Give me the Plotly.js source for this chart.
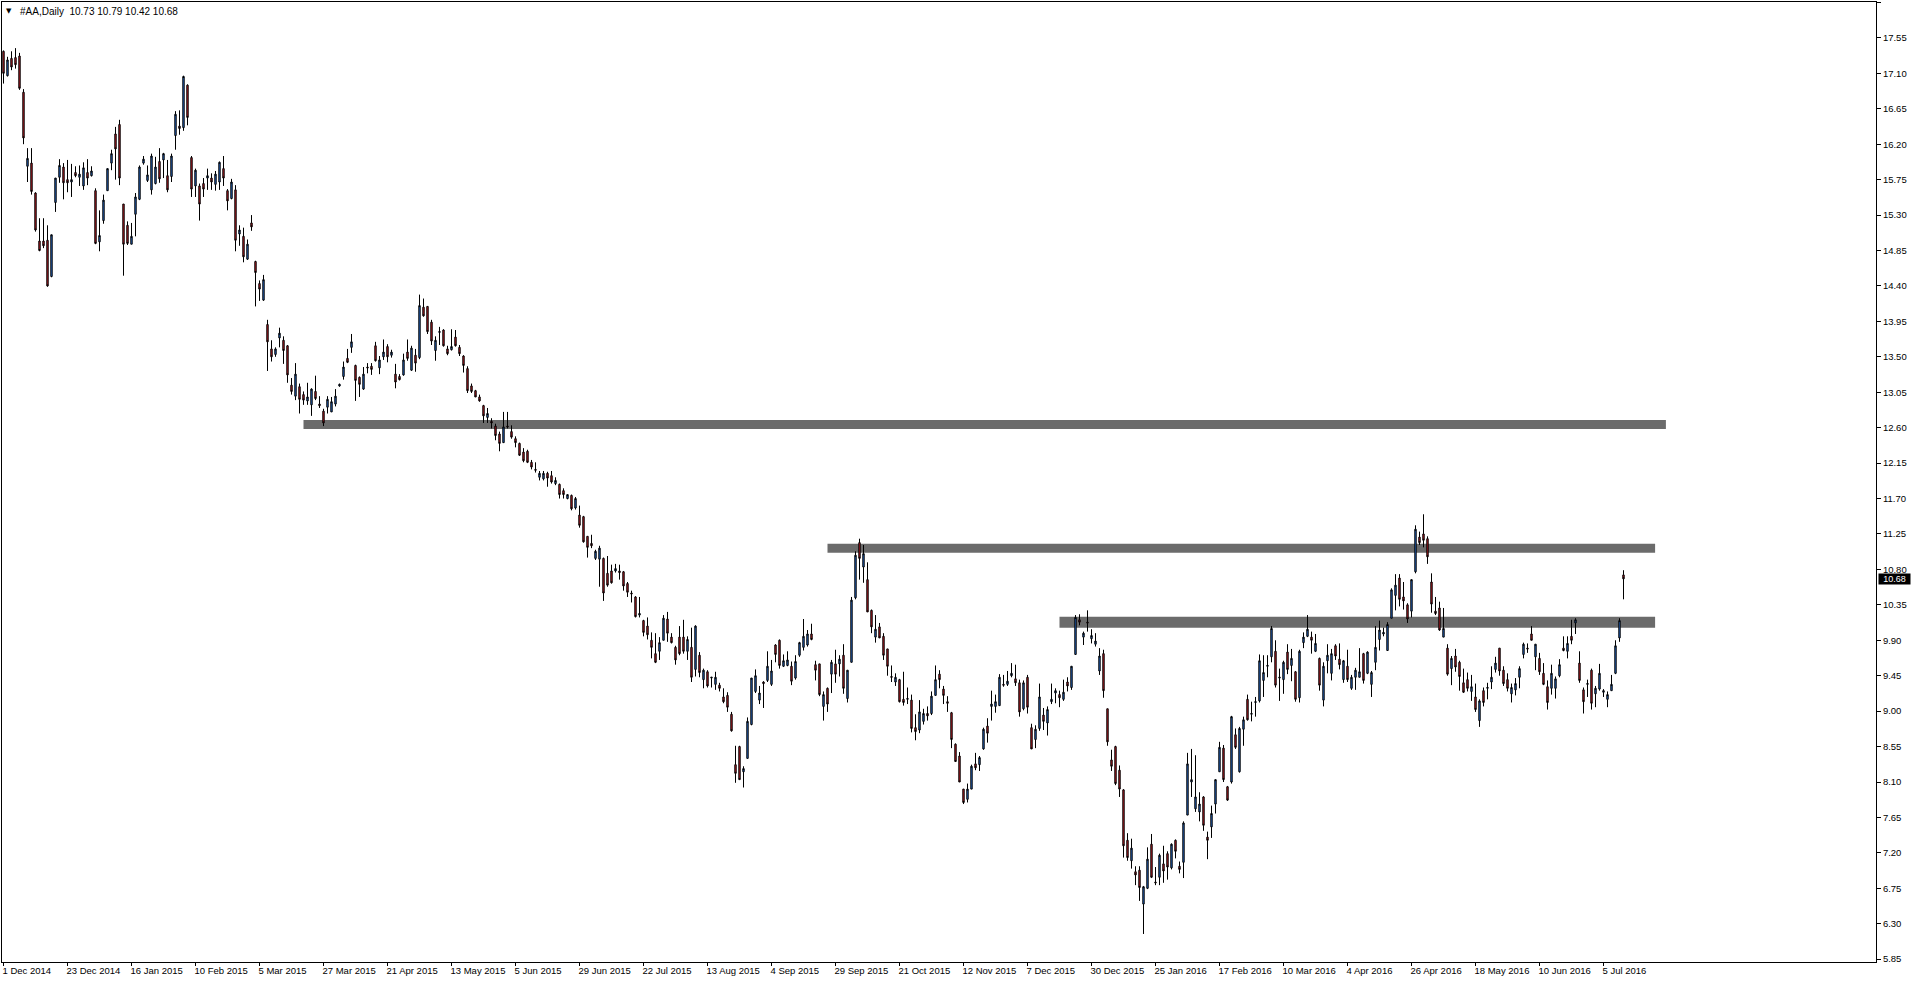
<!DOCTYPE html>
<html><head><meta charset="utf-8">
<script src="https://cdn.plot.ly/plotly-3.0.1.min.js"></script>
<style>html,body{margin:0;padding:0;background:#fff;overflow:hidden}#chart{width:1916px;height:982px}</style>
</head><body><div id="chart"></div>
<script>
// Daily OHLC of #AA, bar by bar (bar 0 = 1 Dec 2014)
const openP = [
17.38,17.07,17.29,17.30,17.32,16.86,15.92,15.96,15.58,14.97,14.97,14.98,14.52,15.46,15.78,15.91,15.75,15.72,15.84,15.78,
15.67,15.84,15.80,15.61,14.96,15.23,15.61,15.96,16.33,16.45,15.44,15.17,14.93,15.31,15.50,15.96,15.74,15.62,15.70,15.98,
16.00,15.80,15.79,16.31,16.43,16.41,16.95,16.03,15.67,15.67,15.70,15.77,15.77,15.69,15.72,15.89,15.61,15.51,15.62,15.06,
15.03,14.74,15.20,14.71,14.43,14.22,13.91,13.60,13.53,13.74,13.71,13.64,13.14,13.00,13.12,13.02,12.94,12.89,13.06,12.90,
12.81,12.86,12.80,12.90,13.13,13.25,13.48,13.62,13.39,13.24,13.09,13.37,13.38,13.64,13.36,13.50,13.63,13.52,13.28,13.25,
13.27,13.56,13.33,13.52,13.49,14.13,14.14,13.94,13.58,13.81,13.84,13.60,13.59,13.75,13.62,13.51,13.35,13.13,13.07,12.99,
12.88,12.73,12.68,12.62,12.52,12.41,12.62,12.55,12.46,12.40,12.29,12.30,12.16,12.07,11.97,11.95,12.02,11.99,11.89,11.88,
11.80,11.70,11.74,11.58,11.49,11.47,11.22,11.13,10.94,10.93,10.94,10.75,10.78,10.78,10.78,10.77,10.62,10.50,10.45,10.22,
10.15,10.08,9.90,9.73,9.76,9.90,10.17,9.94,9.81,9.94,9.94,9.76,9.81,9.53,9.71,9.40,9.50,9.42,9.34,9.33,
9.18,9.20,8.96,8.32,8.55,8.23,8.40,8.83,9.25,9.14,9.37,9.39,9.34,9.84,9.90,9.57,9.58,9.57,9.42,9.71,
9.81,9.84,9.98,9.59,9.60,9.06,9.29,9.47,9.60,9.60,9.71,9.16,9.62,10.44,11.14,10.83,10.67,10.28,9.94,10.07,
9.95,9.79,9.44,9.37,9.40,9.15,9.15,9.14,8.79,8.76,8.87,8.97,8.97,9.20,9.47,9.28,9.12,8.98,8.58,8.43,
8.01,7.88,8.01,8.33,8.32,8.52,8.81,9.06,9.06,9.07,9.34,9.34,9.45,9.41,9.36,9.03,9.43,8.79,8.64,8.78,
8.95,8.85,9.12,9.23,9.21,9.15,9.37,9.30,9.72,10.16,9.94,10.13,9.92,9.85,9.51,9.73,9.03,8.38,8.55,8.25,
8.00,7.36,7.10,6.96,6.98,6.55,6.75,7.31,6.83,6.89,7.06,7.19,7.01,7.36,7.03,7.08,7.68,8.10,7.76,7.72,
7.91,7.40,7.53,7.82,8.23,8.53,8.04,8.10,8.70,8.23,8.77,9.15,8.96,9.11,9.13,9.39,9.57,9.69,9.76,9.42,
9.40,9.75,9.58,9.50,9.17,9.87,9.95,9.94,9.76,9.67,9.14,9.64,9.48,9.83,9.66,9.40,9.57,9.29,9.43,9.43,
9.73,9.48,9.34,9.62,9.91,9.98,9.77,10.18,10.47,10.69,10.45,10.35,10.27,10.77,11.21,11.25,11.19,10.64,10.27,10.31,
9.94,9.80,9.54,9.70,9.62,9.36,9.40,9.25,9.18,8.88,9.26,9.29,9.37,9.53,9.80,9.52,9.40,9.22,9.27,9.43,
9.72,9.80,9.98,9.69,9.67,9.48,9.31,9.29,9.29,9.45,9.80,9.76,9.95,10.12,9.61,9.27,9.34,9.52,9.22,9.28,
9.24,9.15,9.26,9.48,9.93,10.73
];
const highP = [
17.39,17.31,17.38,17.42,17.36,16.90,16.15,16.15,15.59,15.26,15.26,15.17,15.05,15.77,16.01,15.96,16.00,15.95,15.92,15.93,
15.97,16.01,15.92,15.64,15.36,15.56,15.89,16.13,16.42,16.51,15.44,15.22,15.20,15.58,15.93,16.05,15.93,16.08,16.04,16.15,
16.09,16.00,16.08,16.62,16.63,17.07,16.96,16.05,15.89,15.70,15.77,15.89,15.83,15.86,15.98,16.05,15.63,15.76,15.68,15.17,
15.14,14.99,15.30,14.72,14.47,14.54,13.97,13.71,13.62,13.87,13.76,13.65,13.23,13.42,13.16,13.06,13.17,13.10,13.26,13.00,
12.84,13.00,12.99,13.09,13.16,13.44,13.60,13.79,13.40,13.25,13.37,13.42,13.42,13.69,13.51,13.72,13.66,13.59,13.41,13.28,
13.54,13.72,13.64,13.60,14.29,14.24,14.14,13.97,13.76,13.88,13.85,13.64,13.85,13.84,13.65,13.52,13.38,13.16,13.08,13.02,
12.89,12.85,12.72,12.65,12.55,12.80,12.80,12.63,12.49,12.41,12.34,12.32,12.19,12.16,12.05,12.05,12.04,12.05,11.97,11.89,
11.83,11.75,11.75,11.72,11.61,11.48,11.22,11.24,11.05,11.10,10.95,10.97,10.86,10.87,10.86,10.78,10.64,10.53,10.46,10.45,
10.16,10.19,10.00,9.99,9.94,10.22,10.26,9.99,9.83,10.08,10.16,9.95,10.06,10.09,9.75,9.54,9.52,9.43,9.50,9.36,
9.29,9.24,8.99,8.56,8.56,8.30,8.92,9.42,9.53,9.32,9.38,9.76,9.65,9.85,9.91,9.72,9.76,9.63,9.71,9.88,
10.17,10.03,10.11,9.64,9.60,9.25,9.30,9.65,9.78,9.71,9.85,9.52,10.45,11.03,11.19,11.11,10.89,10.29,10.22,10.12,
9.99,9.79,9.58,9.48,9.41,9.50,9.30,9.21,8.96,9.14,9.03,9.06,9.25,9.58,9.52,9.32,9.19,8.99,8.59,8.48,
8.01,8.08,8.32,8.47,8.43,8.79,8.91,9.26,9.21,9.47,9.46,9.51,9.61,9.59,9.40,9.39,9.46,8.84,8.82,9.35,
9.04,9.06,9.35,9.29,9.26,9.40,9.43,9.57,10.22,10.23,10.01,10.28,10.04,9.99,9.80,9.78,9.03,8.51,8.56,8.31,
8.01,7.45,7.38,7.03,7.03,6.78,7.27,7.44,7.02,7.19,7.29,7.22,7.32,7.37,7.09,7.60,8.47,8.52,8.44,7.97,
7.92,7.47,7.80,8.13,8.61,8.57,8.05,8.94,8.78,8.80,8.93,9.21,9.12,9.18,9.72,9.71,9.71,10.08,9.90,9.54,
9.64,9.85,9.79,9.51,9.78,10.00,10.22,10.01,9.98,9.68,9.62,9.85,9.79,9.85,9.86,9.65,9.78,9.46,9.55,9.80,
9.74,9.76,9.51,10.08,10.15,10.06,10.13,10.56,10.74,10.74,10.64,10.37,10.67,11.36,11.28,11.50,11.22,10.75,10.45,10.39,
10.31,9.85,9.70,9.79,9.64,9.54,9.49,9.46,9.35,9.15,9.30,9.36,9.57,9.69,9.80,9.57,9.48,9.35,9.42,9.57,
9.87,9.86,10.08,9.85,9.74,9.61,9.39,9.59,9.44,9.66,9.95,9.95,10.16,10.18,9.76,9.30,9.40,9.54,9.32,9.60,
9.28,9.25,9.46,9.90,10.18,10.79
];
const lowP = [
16.97,17.06,17.14,17.16,16.89,16.20,15.72,15.56,15.09,14.84,14.88,14.39,14.51,15.34,15.71,15.50,15.59,15.53,15.78,15.67,
15.62,15.68,15.79,14.93,14.84,15.19,15.61,15.87,15.75,15.68,14.53,14.92,14.93,15.03,15.49,15.94,15.72,15.56,15.69,15.71,
15.77,15.59,15.72,16.13,16.32,16.37,16.44,15.53,15.53,15.23,15.53,15.62,15.62,15.61,15.62,15.67,15.36,15.50,14.84,14.91,
14.70,14.73,15.10,14.14,14.21,14.21,13.32,13.44,13.50,13.62,13.41,13.17,13.02,12.95,12.78,12.89,12.89,12.75,12.95,12.85,
12.62,12.78,12.80,12.87,13.12,13.21,13.42,13.55,12.94,12.99,13.08,13.29,13.27,13.44,13.28,13.46,13.43,13.49,13.10,13.20,
13.26,13.45,13.32,13.31,13.47,14.01,13.79,13.65,13.45,13.65,13.63,13.52,13.58,13.63,13.51,13.30,13.04,13.04,12.99,12.93,
12.66,12.66,12.59,12.44,12.30,12.41,12.59,12.46,12.35,12.24,12.16,12.15,12.07,12.03,11.93,11.93,11.85,11.89,11.87,11.70,
11.70,11.69,11.55,11.56,11.33,11.14,10.95,11.07,10.92,10.58,10.40,10.58,10.62,10.76,10.67,10.53,10.45,10.38,10.19,10.19,
9.95,9.91,9.67,9.61,9.65,9.90,9.88,9.86,9.59,9.71,9.73,9.65,9.37,9.44,9.43,9.29,9.30,9.30,9.27,9.25,
9.10,8.99,8.74,8.09,8.13,8.03,8.40,8.82,9.23,9.09,9.04,9.37,9.32,9.62,9.54,9.56,9.57,9.33,9.40,9.69,
9.77,9.82,9.90,9.39,9.19,8.88,8.99,9.23,9.36,9.44,9.22,9.11,9.62,10.42,10.67,10.63,10.26,9.99,9.87,9.93,
9.65,9.45,9.37,9.32,9.11,9.07,9.09,8.73,8.63,8.72,8.83,8.88,8.95,9.20,9.29,9.09,8.99,8.53,8.36,8.10,
7.82,7.84,8.01,8.25,8.24,8.51,8.60,8.88,8.98,9.07,9.31,9.32,9.43,9.32,8.93,9.01,8.97,8.52,8.53,8.75,
8.76,8.69,9.09,9.10,9.05,9.13,9.25,9.27,9.72,10.09,9.84,10.01,9.86,9.82,9.46,9.17,8.56,8.24,8.06,7.91,
7.14,7.10,7.00,6.79,6.59,6.17,6.74,6.88,6.79,6.79,6.82,6.86,6.99,7.13,6.94,6.88,7.68,7.91,7.72,7.60,
7.48,7.12,7.39,7.70,8.23,8.10,7.86,8.08,8.52,8.22,8.56,8.88,8.87,8.93,9.11,9.18,9.43,9.62,9.30,9.13,
9.22,9.47,9.38,9.12,9.11,9.80,9.94,9.73,9.75,9.26,9.06,9.48,9.39,9.65,9.53,9.36,9.37,9.27,9.27,9.43,
9.35,9.47,9.18,9.52,9.77,9.95,9.77,10.18,10.28,10.33,10.29,10.12,10.19,10.75,11.11,11.08,10.87,10.25,10.22,10.02,
9.94,9.45,9.33,9.50,9.26,9.23,9.25,9.13,8.99,8.80,9.06,9.15,9.28,9.49,9.45,9.32,9.25,9.11,9.20,9.29,
9.67,9.74,9.90,9.52,9.46,9.33,9.02,9.21,9.16,9.43,9.76,9.67,9.85,9.98,9.36,8.97,9.18,9.02,9.05,9.26,
9.18,9.05,9.26,9.47,9.88,10.42
];
const closeP = [
17.10,17.27,17.18,17.21,16.91,16.28,16.02,15.60,15.11,14.85,14.91,14.40,15.05,15.77,15.93,15.71,15.71,15.75,15.80,15.82,
15.90,15.77,15.86,14.94,15.04,15.49,15.89,16.08,16.14,15.77,14.93,14.94,15.03,15.53,15.91,16.01,15.81,16.05,15.91,15.76,
16.08,15.62,16.05,16.58,16.40,17.06,16.54,15.63,15.87,15.44,15.63,15.80,15.72,15.82,15.97,15.77,15.48,15.72,14.98,15.11,
14.77,14.93,15.15,14.57,14.36,14.48,13.69,13.50,13.60,13.80,13.58,13.27,13.06,13.28,12.96,12.95,12.99,13.09,12.97,12.88,
12.66,12.96,12.93,13.00,13.15,13.37,13.43,13.69,13.20,13.15,13.28,13.36,13.34,13.45,13.46,13.56,13.50,13.56,13.18,13.21,
13.46,13.48,13.61,13.42,14.15,14.02,13.82,13.70,13.71,13.82,13.64,13.54,13.63,13.64,13.54,13.39,13.07,13.06,12.99,12.94,
12.75,12.78,12.66,12.50,12.40,12.61,12.61,12.48,12.41,12.25,12.18,12.16,12.10,12.06,12.02,12.02,11.96,11.91,11.93,11.75,
11.75,11.75,11.57,11.70,11.36,11.15,11.08,11.10,11.03,11.07,10.50,10.60,10.63,10.81,10.76,10.59,10.51,10.49,10.20,10.24,
10.00,9.97,9.81,9.62,9.87,10.18,9.99,9.87,9.65,9.73,9.76,9.91,9.43,10.08,9.49,9.52,9.32,9.43,9.43,9.29,
9.12,9.05,8.75,8.21,8.13,8.27,8.87,9.42,9.45,9.23,9.35,9.57,9.51,9.72,9.58,9.64,9.65,9.38,9.63,9.87,
9.95,9.98,9.91,9.52,9.21,9.21,9.09,9.62,9.47,9.66,9.29,9.52,10.41,10.98,10.94,11.00,10.26,10.07,10.04,9.93,
9.71,9.57,9.43,9.43,9.12,9.11,9.16,8.78,8.74,8.99,8.97,8.94,9.19,9.40,9.40,9.20,9.10,8.64,8.36,8.10,
7.84,8.01,8.30,8.28,8.41,8.77,8.72,9.09,9.12,9.43,9.33,9.38,9.48,9.36,8.99,9.36,9.05,8.52,8.77,9.18,
8.87,9.02,9.15,9.26,9.17,9.24,9.32,9.57,10.19,10.13,9.99,10.12,9.96,9.89,9.70,9.26,8.61,8.30,8.08,8.01,
7.29,7.14,7.26,6.92,6.76,6.77,7.12,6.89,6.82,7.17,6.97,7.02,7.31,7.22,6.99,7.58,8.33,8.13,7.91,7.82,
7.55,7.36,7.70,8.13,8.54,8.13,7.87,8.93,8.54,8.78,8.89,8.89,8.97,9.12,9.64,9.49,9.58,10.05,9.33,9.43,
9.62,9.53,9.67,9.15,9.76,9.94,10.04,9.90,9.86,9.33,9.57,9.71,9.73,9.70,9.59,9.64,9.40,9.43,9.52,9.50,
9.39,9.75,9.49,9.81,10.03,10.00,10.10,10.54,10.60,10.42,10.40,10.17,10.67,11.31,11.14,11.17,10.96,10.36,10.24,10.03,
10.05,9.47,9.67,9.56,9.44,9.24,9.29,9.31,9.02,9.13,9.11,9.30,9.43,9.61,9.51,9.35,9.29,9.30,9.35,9.54,
9.85,9.79,9.90,9.85,9.50,9.34,9.11,9.48,9.41,9.59,9.77,9.86,9.90,10.16,9.39,9.12,9.35,9.10,9.29,9.48,
9.26,9.21,9.34,9.83,10.15,10.68
];
// date labels printed every 16 bars on the time axis
const tickLabels = ['1 Dec 2014','23 Dec 2014','16 Jan 2015','10 Feb 2015','5 Mar 2015','27 Mar 2015','21 Apr 2015',
  '13 May 2015','5 Jun 2015','29 Jun 2015','22 Jul 2015','13 Aug 2015','4 Sep 2015','29 Sep 2015','21 Oct 2015',
  '12 Nov 2015','7 Dec 2015','30 Dec 2015','25 Jan 2016','17 Feb 2016','10 Mar 2016','4 Apr 2016','26 Apr 2016',
  '18 May 2016','10 Jun 2016','5 Jul 2016'];
const barsPerLabel = 16;
// horizontal support / resistance levels (price, first bar, last bar)
const levelPrice = [12.64, 11.068, 10.13];
const levelStart = [75, 206, 264];
const levelEnd = [415.6, 412.9, 412.9];

const barIdx = openP.map((_, i) => i);
const last = closeP.length - 1;

const levelWidths = [9, 9, 11];
const shapes = levelPrice.map((p, k) => ({
  type: 'line', xref: 'x', yref: 'y', layer: 'below',
  x0: levelStart[k], x1: levelEnd[k], y0: p, y1: p,
  line: {color: '#6b6b6b', width: levelWidths[k]}
}));

const trace = {
  type: 'candlestick', x: barIdx, open: openP, high: highP, low: lowP, close: closeP,
  increasing: {fillcolor: '#2b7bec', line: {color: '#000000', width: 1}},
  decreasing: {fillcolor: '#e0202a', line: {color: '#000000', width: 1}},
  whiskerwidth: 0, hoverinfo: 'skip', showlegend: false
};

const f = 'Liberation Sans, Arial, sans-serif';
const layout = {
  width: 1916, height: 982,
  margin: {l: 2, r: 40, t: 2, b: 20, pad: 0},
  paper_bgcolor: '#ffffff', plot_bgcolor: '#ffffff',
  showlegend: false, boxgap: 0.5, hovermode: false,
  font: {family: f, size: 9.5, color: '#000000'},
  xaxis: {
    range: [-0.375, 468.125], showgrid: false, zeroline: false,
    showline: true, mirror: true, linecolor: '#000000', linewidth: 1,
    ticks: 'outside', ticklen: 3, tickcolor: '#000000', tickwidth: 1,
    tickvals: tickLabels.map((_, k) => k * barsPerLabel), ticktext: tickLabels,
    ticklabelposition: 'outside right', ticklabelshift: -2,
    tickfont: {family: f, size: 9.5, color: '#000000'},
    rangeslider: {visible: false}, fixedrange: true
  },
  yaxis: {
    side: 'right', range: [5.814, 18.006], tick0: 5.85, dtick: 0.45, tickformat: '.2f',
    showgrid: false, zeroline: false, showline: true, mirror: true,
    linecolor: '#000000', linewidth: 1,
    ticks: 'outside', ticklen: 4, tickcolor: '#000000',
    tickfont: {family: f, size: 9.5, color: '#000000'}, fixedrange: true
  },
  shapes: shapes,
  annotations: [
    {xref: 'paper', yref: 'paper', x: 0, y: 1, xanchor: 'left', yanchor: 'top', xshift: 2, yshift: -3,
     text: '\u25BC', showarrow: false, font: {family: 'DejaVu Sans', size: 7, color: '#000000'}},
    {xref: 'paper', yref: 'paper', x: 0, y: 1, xanchor: 'left', yanchor: 'top', xshift: 16, yshift: -2,
     text: '#AA,Daily\u00a0\u00a0' + [openP[last], highP[last], lowP[last], closeP[last]].map(v => v.toFixed(2)).join(' '),
     showarrow: false, font: {family: f, size: 10, color: '#000000'}},
    {xref: 'paper', yref: 'y', x: 1, y: closeP[last], xanchor: 'left', yanchor: 'middle', xshift: 2,
     text: closeP[last].toFixed(2), showarrow: false, bgcolor: '#000000', borderpad: 0,
     width: 31, height: 10, align: 'center',
     font: {family: f, size: 9, color: '#ffffff'}}
  ]
};

Plotly.newPlot('chart', [trace], layout, {displayModeBar: false, staticPlot: true});
</script>
</body></html>
